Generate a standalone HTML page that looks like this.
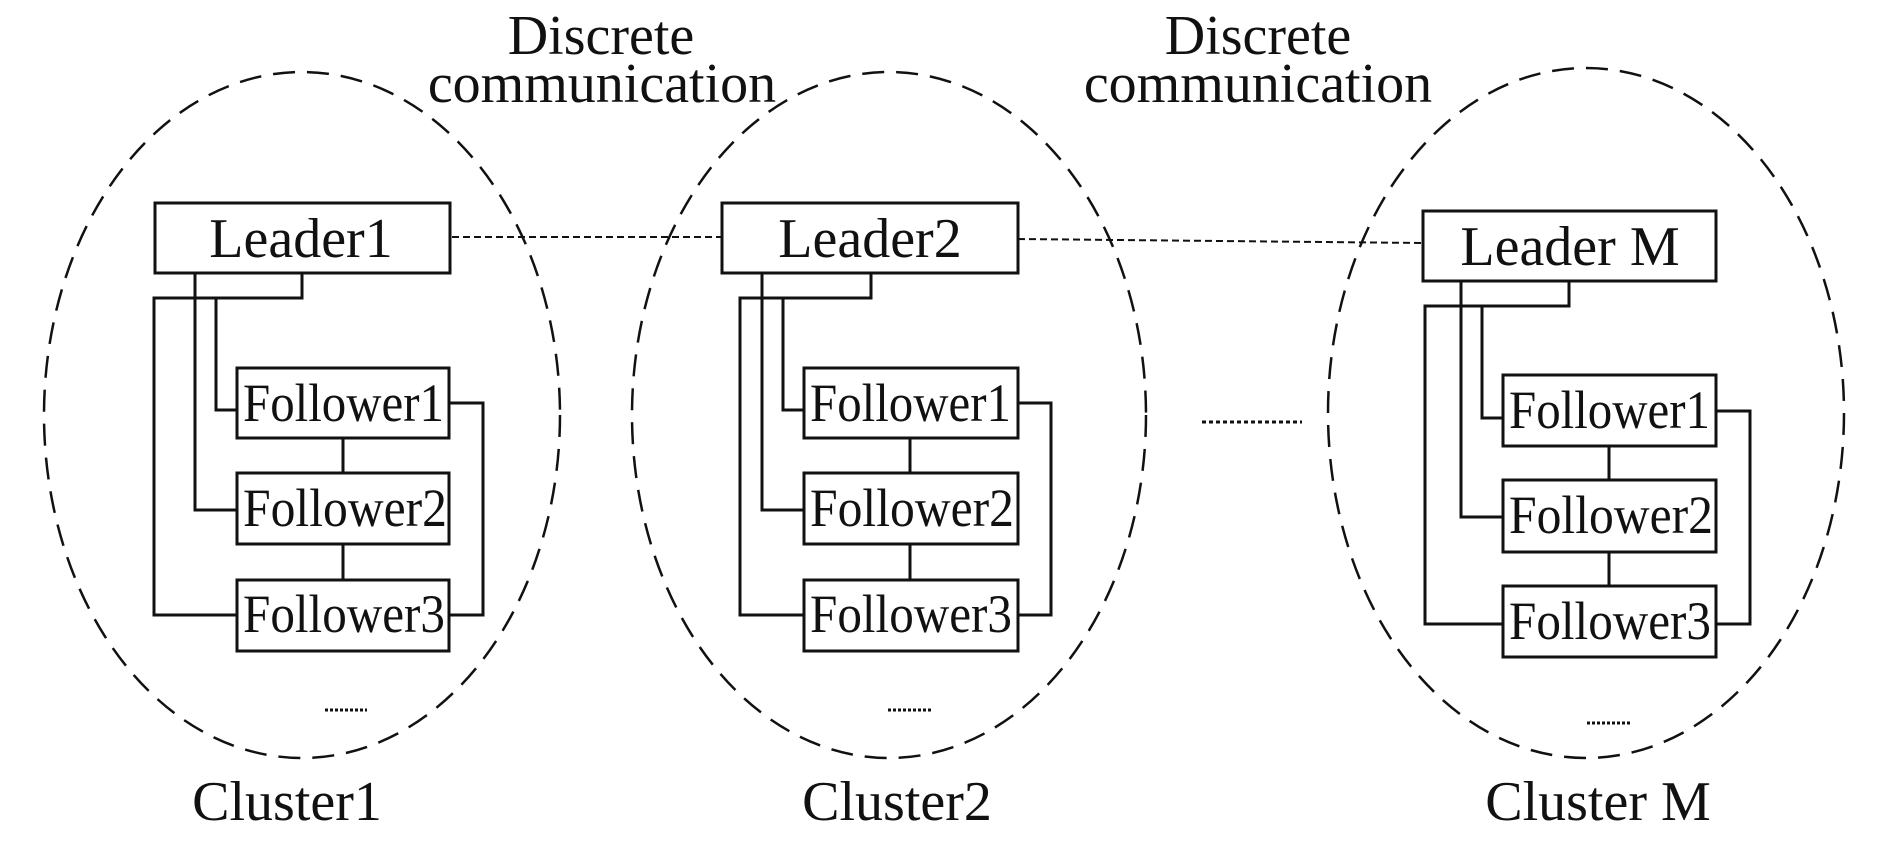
<!DOCTYPE html>
<html><head><meta charset="utf-8"><style>html,body{margin:0;padding:0;background:#fff}svg{display:block}</style></head>
<body>
<svg width="1890" height="843" viewBox="0 0 1890 843" xmlns="http://www.w3.org/2000/svg" font-family="Liberation Serif, serif" fill="none" stroke="#111">
<g stroke-width="2.5" stroke-dasharray="22 12">
<ellipse cx="302" cy="415" rx="258" ry="343"/>
<ellipse cx="889" cy="415" rx="257" ry="343"/>
<ellipse cx="1586" cy="413" rx="258" ry="345"/>
</g>
<g stroke-width="2" stroke-dasharray="7 4">
<line x1="452" y1="237" x2="722" y2="237"/>
<line x1="1018" y1="239" x2="1423" y2="243"/>
<line x1="1202" y1="422" x2="1302" y2="422" stroke-dasharray="4 3" stroke-width="3"/>
<line x1="325" y1="710" x2="367" y2="710" stroke-dasharray="3 2" stroke-width="3"/>
<line x1="888" y1="710" x2="933" y2="710" stroke-dasharray="3 2" stroke-width="3"/>
<line x1="1587" y1="723" x2="1631" y2="723" stroke-dasharray="3 2" stroke-width="3"/>
</g>
<g stroke-width="3">
<!-- cluster1 -->
<rect x="155" y="203" width="295" height="70"/>
<rect x="237" y="368" width="212" height="70"/>
<rect x="237" y="473" width="212" height="71"/>
<rect x="237" y="580" width="212" height="71"/>
<polyline points="302,273 302,298 154,298 154,615 237,615"/>
<polyline points="195,273 195,510 237,510"/>
<polyline points="216,298 216,410 237,410"/>
<polyline points="449,403 483,403 483,615 449,615"/>
<line x1="343" y1="438" x2="343" y2="473"/><line x1="343" y1="544" x2="343" y2="580"/>
<!-- cluster2 -->
<rect x="722" y="203" width="296" height="70"/>
<rect x="804" y="368" width="214" height="70"/>
<rect x="804" y="473" width="214" height="71"/>
<rect x="804" y="580" width="214" height="71"/>
<polyline points="871,273 871,298 740,298 740,615 804,615"/>
<polyline points="762,273 762,510 804,510"/>
<polyline points="783,298 783,410 804,410"/>
<polyline points="1018,403 1051,403 1051,615 1018,615"/>
<line x1="910" y1="438" x2="910" y2="473"/><line x1="910" y1="544" x2="910" y2="580"/>
<!-- cluster M -->
<rect x="1423" y="211" width="293" height="70"/>
<rect x="1503" y="375" width="213" height="71"/>
<rect x="1503" y="480" width="213" height="72"/>
<rect x="1503" y="586" width="213" height="71"/>
<polyline points="1569,281 1569,306 1425,306 1425,624 1503,624"/>
<polyline points="1461,281 1461,517 1503,517"/>
<polyline points="1482,306 1482,418 1503,418"/>
<polyline points="1716,411 1750,411 1750,624 1716,624"/>
<line x1="1609" y1="446" x2="1609" y2="480"/><line x1="1609" y1="552" x2="1609" y2="586"/>
</g>
<g fill="#111" stroke="none" font-size="56" text-anchor="middle">
<text x="601" y="54">Discrete</text>
<text x="602" y="102">communication</text>
<text x="1258" y="54">Discrete</text>
<text x="1258" y="102">communication</text>
<text x="301" y="257">Leader1</text>
<text x="870" y="257">Leader2</text>
<text x="1570" y="265">Leader M</text>
<text x="287" y="820">Cluster1</text>
<text x="897" y="820">Cluster2</text>
<text x="1598" y="820">Cluster M</text>
</g>
<g fill="#111" stroke="none" font-size="54" text-anchor="start">
<text x="243" y="421" textLength="201" lengthAdjust="spacingAndGlyphs">Follower1</text>
<text x="243" y="526" textLength="204" lengthAdjust="spacingAndGlyphs">Follower2</text>
<text x="243" y="632" textLength="202" lengthAdjust="spacingAndGlyphs">Follower3</text>
<text x="810" y="421" textLength="201" lengthAdjust="spacingAndGlyphs">Follower1</text>
<text x="810" y="526" textLength="204" lengthAdjust="spacingAndGlyphs">Follower2</text>
<text x="810" y="632" textLength="202" lengthAdjust="spacingAndGlyphs">Follower3</text>
<text x="1509" y="428" textLength="201" lengthAdjust="spacingAndGlyphs">Follower1</text>
<text x="1509" y="533" textLength="204" lengthAdjust="spacingAndGlyphs">Follower2</text>
<text x="1509" y="639" textLength="202" lengthAdjust="spacingAndGlyphs">Follower3</text>
</g>
</svg>
</body></html>
